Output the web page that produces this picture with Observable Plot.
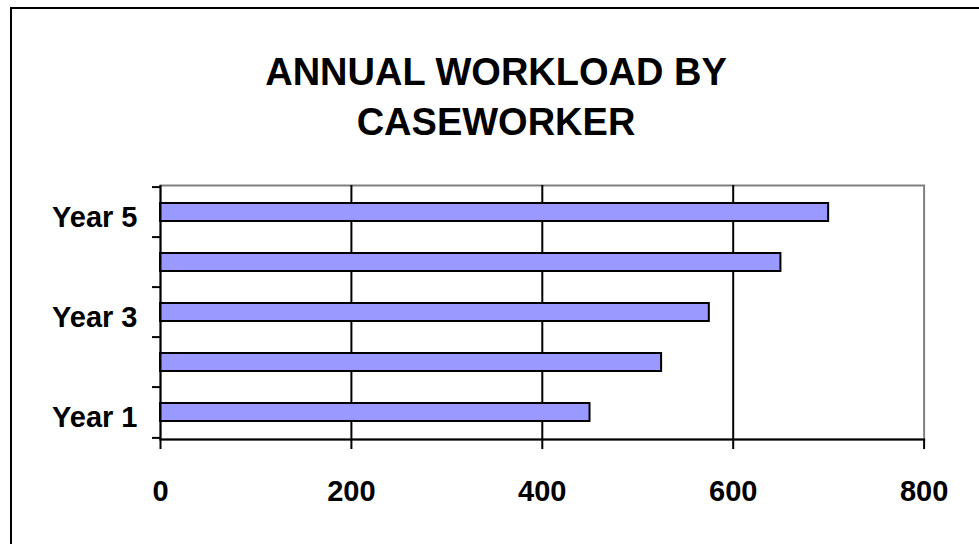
<!DOCTYPE html>
<html>
<head>
<meta charset="utf-8">
<script src="https://cdn.jsdelivr.net/npm/d3@7"></script>
<script src="https://cdn.jsdelivr.net/npm/@observablehq/plot@0.6"></script>
<style>
  html, body { margin: 0; padding: 0; background: #fff; overflow: hidden; }
  #wrap { position: relative; width: 979px; height: 544px; overflow: hidden; font-family: "Liberation Sans", Arial, sans-serif; }
  #border { position: absolute; left: 10px; top: 7px; right: -20px; bottom: -20px; border-left: 2px solid #000; border-top: 2px solid #000; pointer-events: none; }
  #title { box-sizing: border-box; width: 979px; height: 147px; padding-top: 47px; padding-left: 13px; text-align: center; font-size: 38px; line-height: 50px; font-weight: bold; color: #000; }
  #chart svg { display: block; }
</style>
</head>
<body>
<div id="wrap">
  <div id="border"></div>
  <div id="title">ANNUAL WORKLOAD BY<br>CASEWORKER</div>
  <div id="chart"></div>
</div>
<script>
// Caseloads per caseworker, one bar per year
const years = ["Year 1", "Year 2", "Year 3", "Year 4", "Year 5"];
const workload = [450, 525, 575, 650, 700];
const xTicks = [0, 200, 400, 600, 800];
const xGrid = [200, 400, 600];
const yLabels = ["Year 5", "Year 3", "Year 1"];

const data = years.map((year, i) => ({year, value: workload[i]}));

const width = 979, height = 397;
const marginTop = 38, marginBottom = 105, marginLeft = 160, marginRight = 55.4;
const step = (height - marginTop - marginBottom) / years.length;
const font = "Liberation Sans, Arial, sans-serif";

const chart = Plot.plot({
  width, height, marginTop, marginBottom, marginLeft, marginRight,
  style: {fontFamily: font, color: "#000", background: "transparent"},
  x: {domain: [0, 800], label: null},
  y: {domain: years.slice().reverse(), padding: 0, label: null},
  marks: [
    Plot.frame({stroke: "#808080", strokeWidth: 2}),
    Plot.ruleX(xGrid, {stroke: "#000", strokeWidth: 2}),
    Plot.barX(data, {x: "value", y: "year", fill: "#9999FF", stroke: "#000", strokeWidth: 2, insetTop: 16, insetBottom: 16}),
    Plot.ruleX([0], {stroke: "#000", strokeWidth: 2}),
    Plot.frame({anchor: "bottom", stroke: "#000", strokeWidth: 2}),
    // category boundary ticks on the left edge
    Plot.axisY(years, {tickSize: 8, text: null, label: null, stroke: "#000", strokeWidth: 2, dy: -step / 2}),
    Plot.axisY(["Year 1"], {tickSize: 8, text: null, label: null, stroke: "#000", strokeWidth: 2, dy: step / 2}),
    Plot.axisY(yLabels, {tickSize: 0, tickPadding: 23, fontSize: 29, fontWeight: "bold", fill: "#000", dy: 5, label: null}),
    Plot.axisX(xTicks, {tickSize: 10, tickPadding: 31, fontSize: 29, fontWeight: "bold", stroke: "#000", strokeWidth: 2, fill: "#000", label: null})
  ]
});
document.getElementById("chart").appendChild(chart);
</script>
</body>
</html>
